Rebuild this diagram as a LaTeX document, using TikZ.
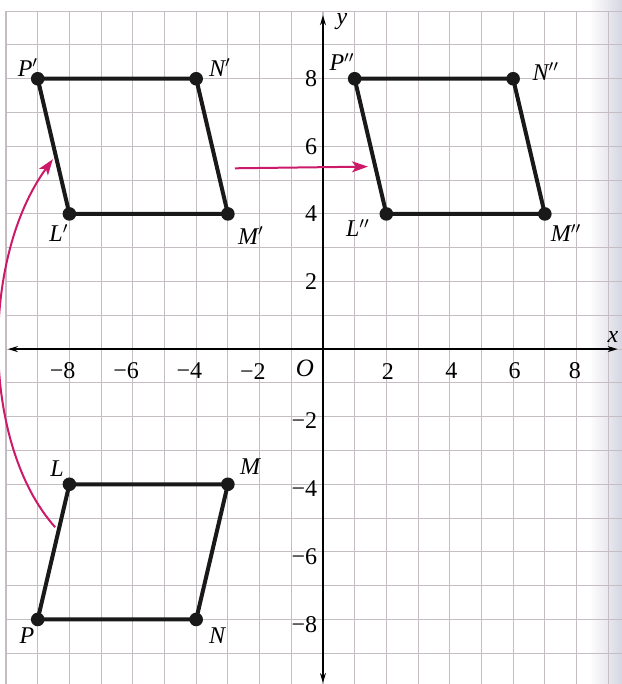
\documentclass[tikz,border=0pt]{standalone}
\usepackage{fontspec}
\setmainfont{Liberation Serif}
\usetikzlibrary{arrows.meta}
\definecolor{transcol}{RGB}{205,25,105}
\definecolor{gridgray}{RGB}{196,190,196}
\definecolor{pageedge}{RGB}{214,214,226}
\begin{document}
\begin{tikzpicture}[x=15.85pt,y=16.9pt,
  gridline/.style={gridgray,line width=0.55pt},
  axisline/.style={line width=0.75pt,black},
  side/.style={line width=2pt,black!90,line cap=round,line join=round},
  dotpt/.style={circle,fill=black!90,inner sep=0pt,minimum size=6.8pt},
  lab/.style={font=\fontsize{12}{14}\selectfont\itshape,inner sep=0pt},
  num/.style={font=\fontsize{12}{14}\selectfont,inner sep=0pt},
  trans/.style={transcol,line width=1pt,-{Stealth[length=8pt,width=5.5pt,inset=2pt]}},
  axtip/.style={line width=0.75pt,{Stealth[length=5pt,width=3pt]}-{Stealth[length=5pt,width=3pt]}}
]
\useasboundingbox (-10.19,-9.91) rectangle (9.43,10.33);
% page edge shading
\shade[left color=white,right color=pageedge] (8.4,-9.91) rectangle (9.43,10.33);
% grid
\foreach \i in {-10,...,9} \draw[gridline] (\i,10) -- (\i,-9.91);
\foreach \j in {-9,...,10} \draw[gridline] (-10,\j) -- (9.43,\j);
% axes
\coordinate (xl) at (-9.94,0);
\coordinate (xr) at (9.3,0);
\coordinate (yt) at (0,9.88);
\coordinate (yb) at (0,-9.88);
\draw[axtip] (xl) -- (xr);
\draw[axtip] (yb) -- (yt);
\node[lab] (xlab) at (9.15,0.35) {x};
\node[lab] (ylab) at (0.6,9.68) {y};
\node[lab,font=\fontsize{12.5}{14}\selectfont\itshape] (olab) at (-0.57,-0.58) {O};
% x tick labels
\node[num] (xm8) at (-8,-0.65) {\llap{−}8};
\node[num] (xm6) at (-6,-0.65) {\llap{−}6};
\node[num] (xm4) at (-4,-0.65) {\llap{−}4};
\node[num] (xm2) at (-2,-0.65) {\llap{−}2};
\node[num] (xp2) at (2.05,-0.65) {2};
\node[num] (xp4) at (4.05,-0.65) {4};
\node[num] (xp6) at (6.05,-0.65) {6};
\node[num] (xp8) at (7.95,-0.65) {8};
% y tick labels
\node[num,anchor=east] (yp8) at (-0.17,8) {8};
\node[num,anchor=east] (yp6) at (-0.17,6) {6};
\node[num,anchor=east] (yp4) at (-0.17,4) {4};
\node[num,anchor=east] (yp2) at (-0.17,2) {2};
\node[num,anchor=east] (ym2) at (-0.17,-2.1) {−2};
\node[num,anchor=east] (ym4) at (-0.17,-4.13) {−4};
\node[num,anchor=east] (ym6) at (-0.17,-6.13) {−6};
\node[num,anchor=east] (ym8) at (-0.17,-8.15) {−8};
% vertices
\coordinate (L) at (-8,-4);
\coordinate (M) at (-3,-4);
\coordinate (N) at (-4,-8);
\coordinate (P) at (-9,-8);
\coordinate (L1) at (-8,4);
\coordinate (M1) at (-3,4);
\coordinate (N1) at (-4,8);
\coordinate (P1) at (-9,8);
\coordinate (L2) at (2,4);
\coordinate (M2) at (7,4);
\coordinate (N2) at (6,8);
\coordinate (P2) at (1,8);
\draw[side] (L) -- (M) -- (N) -- (P) -- cycle;
\draw[side] (L1) -- (M1) -- (N1) -- (P1) -- cycle;
\draw[side] (L2) -- (M2) -- (N2) -- (P2) -- cycle;
\foreach \v in {L,M,N,P,L1,M1,N1,P1,L2,M2,N2,P2}
  \node[dotpt] (dot\v) at (\v) {};
% vertex labels
\node[lab] (tL) at (-8.39,-3.55) {L};
\node[lab] (tM) at (-2.3,-3.49) {M};
\node[lab] (tN) at (-3.34,-8.49) {N};
\node[lab] (tP) at (-9.34,-8.49) {P};
\node[lab] (tL1) at (-8.33,3.43) {L$'$};
\node[lab] (tM1) at (-2.27,3.37) {M$'$};
\node[lab] (tN1) at (-3.25,8.34) {N$'$};
\node[lab] (tP1) at (-9.31,8.34) {P$'$};
\node[lab] (tL2) at (1.1,3.58) {L$''$};
\node[lab] (tM2) at (7.67,3.43) {M$''$};
\node[lab] (tN2) at (7.03,8.22) {N$''$};
\node[lab] (tP2) at (0.6,8.49) {P$''$};
% translation arrows
\coordinate (cs) at (-8.45,-5.27);
\coordinate (ce) at (-8.52,5.62);
\draw[trans] (cs) .. controls (-10.8,-2.8) and (-10.8,2.7) .. (ce);
\coordinate (ts) at (-2.78,5.35);
\coordinate (te) at (1.42,5.4);
\draw[trans] (ts) -- (te);
\end{tikzpicture}
\end{document}
